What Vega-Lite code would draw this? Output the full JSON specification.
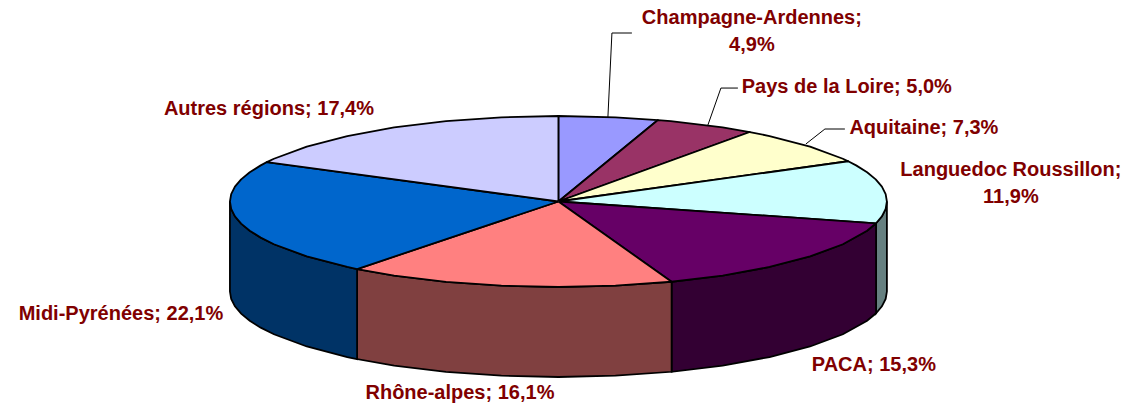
{"$schema":"https://vega.github.io/schema/vega-lite/v6.json","width":1128,"height":406,"autosize":{"type":"fit","contains":"padding"},"padding":0,"background":"white","view":{"stroke":null},
"datasets":{
"walls":[
{"region":"Languedoc Roussillon","x":1,"y":0,"y2":-1.053},{"region":"Languedoc Roussillon","x":0.9962,"y":-0.0872,"y2":-1.1402},{"region":"Languedoc Roussillon","x":0.9848,"y":-0.1736,"y2":-1.2266},{"region":"Languedoc Roussillon","x":0.967,"y":-0.2548,"y2":-1.3078},
{"region":"PACA","x":0.967,"y":-0.2548,"y2":-1.3078},{"region":"PACA","x":0.9397,"y":-0.342,"y2":-1.395},{"region":"PACA","x":0.866,"y":-0.5,"y2":-1.553},{"region":"PACA","x":0.766,"y":-0.6428,"y2":-1.6958},{"region":"PACA","x":0.6428,"y":-0.766,"y2":-1.819},{"region":"PACA","x":0.5,"y":-0.866,"y2":-1.919},{"region":"PACA","x":0.3446,"y":-0.9387,"y2":-1.9917},
{"region":"Rhône-alpes","x":0.3446,"y":-0.9387,"y2":-1.9917},{"region":"Rhône-alpes","x":0.1736,"y":-0.9848,"y2":-2.0378},{"region":"Rhône-alpes","x":0,"y":-1,"y2":-2.053},{"region":"Rhône-alpes","x":-0.1736,"y":-0.9848,"y2":-2.0378},{"region":"Rhône-alpes","x":-0.342,"y":-0.9397,"y2":-1.9927},{"region":"Rhône-alpes","x":-0.5,"y":-0.866,"y2":-1.919},{"region":"Rhône-alpes","x":-0.6129,"y":-0.7902,"y2":-1.8432},
{"region":"Midi-Pyrénées","x":-0.6129,"y":-0.7902,"y2":-1.8432},{"region":"Midi-Pyrénées","x":-0.6428,"y":-0.766,"y2":-1.819},{"region":"Midi-Pyrénées","x":-0.766,"y":-0.6428,"y2":-1.6958},{"region":"Midi-Pyrénées","x":-0.866,"y":-0.5,"y2":-1.553},{"region":"Midi-Pyrénées","x":-0.9063,"y":-0.4226,"y2":-1.4756},{"region":"Midi-Pyrénées","x":-0.9397,"y":-0.342,"y2":-1.395},{"region":"Midi-Pyrénées","x":-0.9659,"y":-0.2588,"y2":-1.3118},{"region":"Midi-Pyrénées","x":-0.9848,"y":-0.1736,"y2":-1.2266},{"region":"Midi-Pyrénées","x":-0.9962,"y":-0.0872,"y2":-1.1402},{"region":"Midi-Pyrénées","x":-1,"y":0,"y2":-1.053}
],
"tops":[
{"region":"Champagne-Ardennes","n":0,"x":0,"y":0},{"region":"Champagne-Ardennes","n":1,"x":0,"y":1},{"region":"Champagne-Ardennes","n":2,"x":0.1736,"y":0.9848},{"region":"Champagne-Ardennes","n":3,"x":0.303,"y":0.953},{"region":"Champagne-Ardennes","n":4,"x":0,"y":0},
{"region":"Pays de la Loire","n":0,"x":0,"y":0},{"region":"Pays de la Loire","n":1,"x":0.303,"y":0.953},{"region":"Pays de la Loire","n":2,"x":0.342,"y":0.9397},{"region":"Pays de la Loire","n":3,"x":0.5,"y":0.866},{"region":"Pays de la Loire","n":4,"x":0.5827,"y":0.8127},{"region":"Pays de la Loire","n":5,"x":0,"y":0},
{"region":"Aquitaine","n":0,"x":0,"y":0},{"region":"Aquitaine","n":1,"x":0.5827,"y":0.8127},{"region":"Aquitaine","n":2,"x":0.6428,"y":0.766},{"region":"Aquitaine","n":3,"x":0.766,"y":0.6428},{"region":"Aquitaine","n":4,"x":0.866,"y":0.5},{"region":"Aquitaine","n":5,"x":0.8822,"y":0.4708},{"region":"Aquitaine","n":6,"x":0,"y":0},
{"region":"Languedoc Roussillon","n":0,"x":0,"y":0},{"region":"Languedoc Roussillon","n":1,"x":0.8822,"y":0.4708},{"region":"Languedoc Roussillon","n":1.5,"x":0.9063,"y":0.4226},{"region":"Languedoc Roussillon","n":2,"x":0.9397,"y":0.342},{"region":"Languedoc Roussillon","n":2.5,"x":0.9659,"y":0.2588},{"region":"Languedoc Roussillon","n":3,"x":0.9848,"y":0.1736},{"region":"Languedoc Roussillon","n":3.5,"x":0.9962,"y":0.0872},{"region":"Languedoc Roussillon","n":4,"x":1,"y":0},{"region":"Languedoc Roussillon","n":4.5,"x":0.9962,"y":-0.0872},{"region":"Languedoc Roussillon","n":5,"x":0.9848,"y":-0.1736},{"region":"Languedoc Roussillon","n":6,"x":0.967,"y":-0.2548},{"region":"Languedoc Roussillon","n":7,"x":0,"y":0},
{"region":"PACA","n":0,"x":0,"y":0},{"region":"PACA","n":1,"x":0.967,"y":-0.2548},{"region":"PACA","n":2,"x":0.9397,"y":-0.342},{"region":"PACA","n":3,"x":0.866,"y":-0.5},{"region":"PACA","n":4,"x":0.766,"y":-0.6428},{"region":"PACA","n":5,"x":0.6428,"y":-0.766},{"region":"PACA","n":6,"x":0.5,"y":-0.866},{"region":"PACA","n":7,"x":0.3446,"y":-0.9387},{"region":"PACA","n":8,"x":0,"y":0},
{"region":"Rhône-alpes","n":0,"x":0,"y":0},{"region":"Rhône-alpes","n":1,"x":0.3446,"y":-0.9387},{"region":"Rhône-alpes","n":2,"x":0.1736,"y":-0.9848},{"region":"Rhône-alpes","n":3,"x":0,"y":-1},{"region":"Rhône-alpes","n":4,"x":-0.1736,"y":-0.9848},{"region":"Rhône-alpes","n":5,"x":-0.342,"y":-0.9397},{"region":"Rhône-alpes","n":6,"x":-0.5,"y":-0.866},{"region":"Rhône-alpes","n":7,"x":-0.6129,"y":-0.7902},{"region":"Rhône-alpes","n":8,"x":0,"y":0},
{"region":"Midi-Pyrénées","n":0,"x":0,"y":0},{"region":"Midi-Pyrénées","n":1,"x":-0.6129,"y":-0.7902},{"region":"Midi-Pyrénées","n":2,"x":-0.6428,"y":-0.766},{"region":"Midi-Pyrénées","n":3,"x":-0.766,"y":-0.6428},{"region":"Midi-Pyrénées","n":4,"x":-0.866,"y":-0.5},{"region":"Midi-Pyrénées","n":4.5,"x":-0.9063,"y":-0.4226},{"region":"Midi-Pyrénées","n":5,"x":-0.9397,"y":-0.342},{"region":"Midi-Pyrénées","n":5.5,"x":-0.9659,"y":-0.2588},{"region":"Midi-Pyrénées","n":6,"x":-0.9848,"y":-0.1736},{"region":"Midi-Pyrénées","n":6.5,"x":-0.9962,"y":-0.0872},{"region":"Midi-Pyrénées","n":7,"x":-1,"y":0},{"region":"Midi-Pyrénées","n":7.5,"x":-0.9962,"y":0.0872},{"region":"Midi-Pyrénées","n":8,"x":-0.9848,"y":0.1736},{"region":"Midi-Pyrénées","n":8.5,"x":-0.9659,"y":0.2588},{"region":"Midi-Pyrénées","n":9,"x":-0.9397,"y":0.342},{"region":"Midi-Pyrénées","n":9.5,"x":-0.9063,"y":0.4226},{"region":"Midi-Pyrénées","n":10,"x":-0.8878,"y":0.4602},{"region":"Midi-Pyrénées","n":11,"x":0,"y":0},
{"region":"Autres régions","n":0,"x":0,"y":0},{"region":"Autres régions","n":1,"x":-0.8878,"y":0.4602},{"region":"Autres régions","n":2,"x":-0.866,"y":0.5},{"region":"Autres régions","n":3,"x":-0.766,"y":0.6428},{"region":"Autres régions","n":4,"x":-0.6428,"y":0.766},{"region":"Autres régions","n":5,"x":-0.5,"y":0.866},{"region":"Autres régions","n":6,"x":-0.342,"y":0.9397},{"region":"Autres régions","n":7,"x":-0.1736,"y":0.9848},{"region":"Autres régions","n":8,"x":0,"y":1},{"region":"Autres régions","n":9,"x":0,"y":0}
],
"leaders":[
{"region":"Champagne-Ardennes","n":0,"x":0.1507,"y":0.988},{"region":"Champagne-Ardennes","n":1,"x":0.1629,"y":1.971},{"region":"Champagne-Ardennes","n":2,"x":0.2237,"y":1.971},
{"region":"Pays de la Loire","n":0,"x":0.4551,"y":0.895},{"region":"Pays de la Loire","n":1,"x":0.4947,"y":1.327},{"region":"Pays de la Loire","n":2,"x":0.5464,"y":1.327},
{"region":"Aquitaine","n":0,"x":0.7534,"y":0.673},{"region":"Aquitaine","n":1,"x":0.8113,"y":0.848},{"region":"Aquitaine","n":2,"x":0.8721,"y":0.848}
],
"labels":[
{"label":"Champagne-Ardennes;","x":0.589,"y":2.146},{"label":"4,9%","x":0.589,"y":1.83},
{"label":"Pays de la Loire; 5,0%","x":0.878,"y":1.339},
{"label":"Aquitaine; 7,3%","x":1.1126,"y":0.86},
{"label":"Languedoc Roussillon;","x":1.3775,"y":0.368},{"label":"11,9%","x":1.3775,"y":0.053},
{"label":"PACA; 15,3%","x":0.9604,"y":-1.912},
{"label":"Rhône-alpes; 16,1%","x":-0.2998,"y":-2.24},
{"label":"Midi-Pyrénées; 22,1%","x":-1.3318,"y":-1.316},
{"label":"Autres régions; 17,4%","x":-0.8813,"y":1.082}
]},
"encoding":{
"x":{"field":"x","type":"quantitative","axis":null,"scale":{"domain":[-1.7,1.734],"nice":false,"zero":false}},
"y":{"field":"y","type":"quantitative","axis":null,"scale":{"domain":[-2.392,2.357],"nice":false,"zero":false}}
},
"layer":[
{"data":{"name":"walls"},"mark":{"type":"area","orient":"vertical","stroke":"black","strokeWidth":1.8},
"encoding":{"y2":{"field":"y2"},"fill":{"field":"region","type":"nominal","legend":null,"scale":{"domain":["Languedoc Roussillon","PACA","Rhône-alpes","Midi-Pyrénées"],"range":["#668080","#330033","#804040","#003366"]}}}},
{"data":{"name":"tops"},"mark":{"type":"line","filled":true,"stroke":"black","strokeWidth":1.8,"strokeJoin":"round"},
"encoding":{"order":{"field":"n","type":"quantitative"},"fill":{"field":"region","type":"nominal","legend":null,"scale":{"domain":["Champagne-Ardennes","Pays de la Loire","Aquitaine","Languedoc Roussillon","PACA","Rhône-alpes","Midi-Pyrénées","Autres régions"],"range":["#9999FF","#993366","#FFFFCC","#CCFFFF","#660066","#FF8080","#0066CC","#CCCCFF"]}}}},
{"data":{"name":"leaders"},"mark":{"type":"line","stroke":"black","strokeWidth":1},
"encoding":{"order":{"field":"n","type":"quantitative"},"detail":{"field":"region"}}},
{"data":{"name":"labels"},"mark":{"type":"text","font":"Liberation Sans","fontWeight":"bold","fontSize":20,"fill":"#800000","align":"center","baseline":"middle"},
"encoding":{"text":{"field":"label"}}}
],
"resolve":{"scale":{"fill":"independent"}}}
